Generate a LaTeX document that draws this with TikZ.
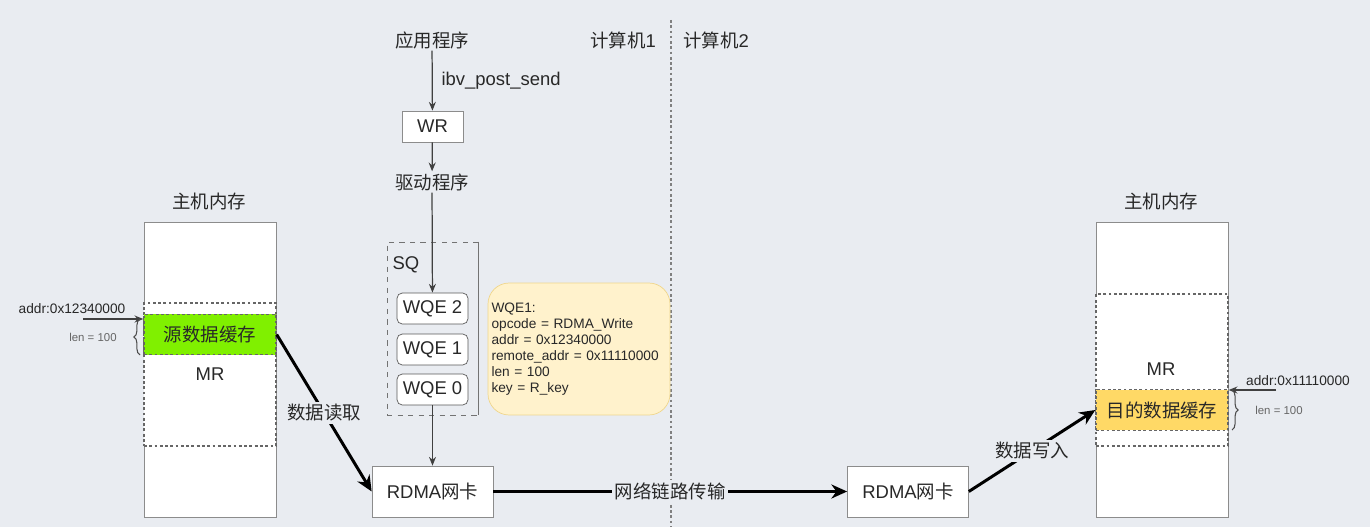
\documentclass[tikz,border=0pt]{standalone}
\usepackage{fontspec}
\setmainfont{Liberation Sans}
\newfontfamily\cjk{Noto Sans CJK SC}
\usetikzlibrary{arrows.meta,decorations.pathreplacing}

\definecolor{pagebg}{RGB}{233,236,241}
\definecolor{srcgreen}{RGB}{128,240,0}
\definecolor{dstyellow}{RGB}{255,217,102}
\definecolor{notefill}{RGB}{255,242,204}
\definecolor{noteline}{RGB}{240,214,140}
\definecolor{boxline}{RGB}{140,140,140}
\definecolor{txt}{RGB}{40,40,40}

\begin{document}
\begin{tikzpicture}[x=0.02cm, y=-0.02cm,
    plain/.style={inner sep=1pt, text=txt, font=\fontsize{10.5}{12}\selectfont},
    box/.style={rectangle, draw=boxline, fill=white, plain, inner sep=0pt},
    wqe/.style={box, draw=black!65, rounded corners=3pt, minimum width=1.42cm, minimum height=0.62cm},
    nic/.style={box, minimum width=2.42cm, minimum height=1.02cm},
    memcol/.style={box, minimum width=2.64cm, minimum height=5.9cm},
    dots/.style={draw=black!60, line width=0.8pt, dash pattern=on 1.6pt off 1.4pt},
    mrregion/.style={box, dots, minimum width=2.64cm},
    buf/.style={rectangle, dots, plain, inner sep=0pt,
                minimum width=2.64cm, minimum height=0.81cm},
    note/.style={rectangle, rounded corners=12pt, draw=noteline, fill=notefill, text=txt,
                 minimum width=3.64cm, minimum height=2.64cm, text width=3.5cm, align=left,
                 inner sep=2pt, font=\fontsize{7.8}{9.1}\selectfont},
    anno/.style={inner sep=0pt, text=txt, font=\fontsize{7.8}{9}\selectfont},
    small/.style={inner sep=0pt, text=black!60, font=\fontsize{6.5}{8}\selectfont},
    thinarr/.style={-{Stealth[length=5pt,width=4pt]}, black!75, line width=0.7pt},
    bigarr/.style={-{Stealth[length=9pt,width=8pt]}, black, line width=1.7pt},
    lbl/.style={plain, fill=pagebg, inner sep=1.5pt},
    brc/.style={decorate, decoration={brace, amplitude=3.5pt}, black!70, line width=0.6pt},
  ]

  % page
  \fill[pagebg] (0,0) rectangle (1370,527);
  \useasboundingbox (0,0) rectangle (1370,527);

  % computer 1 / computer 2
  \draw[black!50, line width=0.7pt, dash pattern=on 1.5pt off 1.5pt] (671,20) -- (671,527);
  \node[plain] (pc1) at (623,40) {{\cjk 计算机}1};
  \node[plain] (pc2) at (716,40) {{\cjk 计算机}2};

  % software stack
  \node[plain] (app) at (432,40) {\cjk 应用程序};
  \node[box, minimum width=1.22cm, minimum height=0.62cm] (wr) at (432.5,126.5) {WR};
  \node[plain] (drv) at (432,182) {\cjk 驱动程序};
  \draw[thinarr] (app) -- node[plain, anchor=west, inner sep=5pt] {ibv\_post\_send} (wr);
  \draw[thinarr] (wr) -- (drv);

  % send queue
  \node[rectangle, draw=black!55, dashed, minimum width=1.82cm, minimum height=3.46cm] (sq) at (432.5,328.5) {};
  \draw[black!55, line width=0.5pt] (sq.north east) -- (sq.south east);
  \node[plain] (sqlbl) at (406,265) {SQ};
  \node[wqe] (wqe2) at (432.5,308.5) {WQE 2};
  \node[wqe] (wqe1) at (432.5,349.5) {WQE 1};
  \node[wqe] (wqe0) at (432.5,389.5) {WQE 0};
  \draw[thinarr] (drv) -- (wqe2);

  % WQE1 contents
  \node[note] (wqeinfo) at (579,349) {WQE1:\\opcode = RDMA\_Write\\addr = 0x12340000\\remote\_addr = 0x11110000\\len = 100\\key = R\_key};

  % network cards
  \node[nic] (nic1) at (432.5,491.5) {RDMA{\cjk 网卡}};
  \node[nic] (nic2) at (908,491.5) {RDMA{\cjk 网卡}};
  \draw[thinarr] (wqe0) -- (nic1);

  % host memory, computer 1
  \node[plain] (host1) at (209,202) {\cjk 主机内存};
  \node[memcol] (mem1) at (210,369.5) {};
  \node[mrregion, minimum height=2.86cm] (mr1) at (210,374.5) {MR};
  \node[buf, fill=srcgreen] (src) at (210,334.5) {\cjk 源数据缓存};
  \node[anno] (addr1) at (72,309) {addr:0x12340000};
  \coordinate (a1) at (83,319);
  \draw[thinarr] (a1) -- (a1 -| src.west);
  \draw[brc] (140,355) -- (140,319);
  \node[small] (len1) at (93,337) {len = 100};

  % host memory, computer 2
  \node[plain] (host2) at (1161,202) {\cjk 主机内存};
  \node[memcol] (mem2) at (1162,369.5) {};
  \node[mrregion, minimum height=3.04cm] (mr2) at (1162,370) {};
  \node[plain] (mrlbl2) at (1161,369) {MR};
  \node[buf, fill=dstyellow] (dst) at (1162,410) {\cjk 目的数据缓存};
  \node[anno] (addr2) at (1298,381) {addr:0x11110000};
  \coordinate (a2) at (1276,390);
  \draw[thinarr] (a2) -- (a2 -| dst.east);
  \draw[brc] (1232,390) -- (1232,430);
  \node[small] (len2) at (1279,410) {len = 100};

  % data path
  \draw[bigarr] (src.east) -- node[lbl] {\cjk 数据读取} (nic1.west);
  \draw[bigarr] (nic1) -- node[lbl] {\cjk 网络链路传输} (nic2);
  \draw[bigarr] (nic2.east) -- node[lbl] {\cjk 数据写入} (dst.west);

\end{tikzpicture}
\end{document}
